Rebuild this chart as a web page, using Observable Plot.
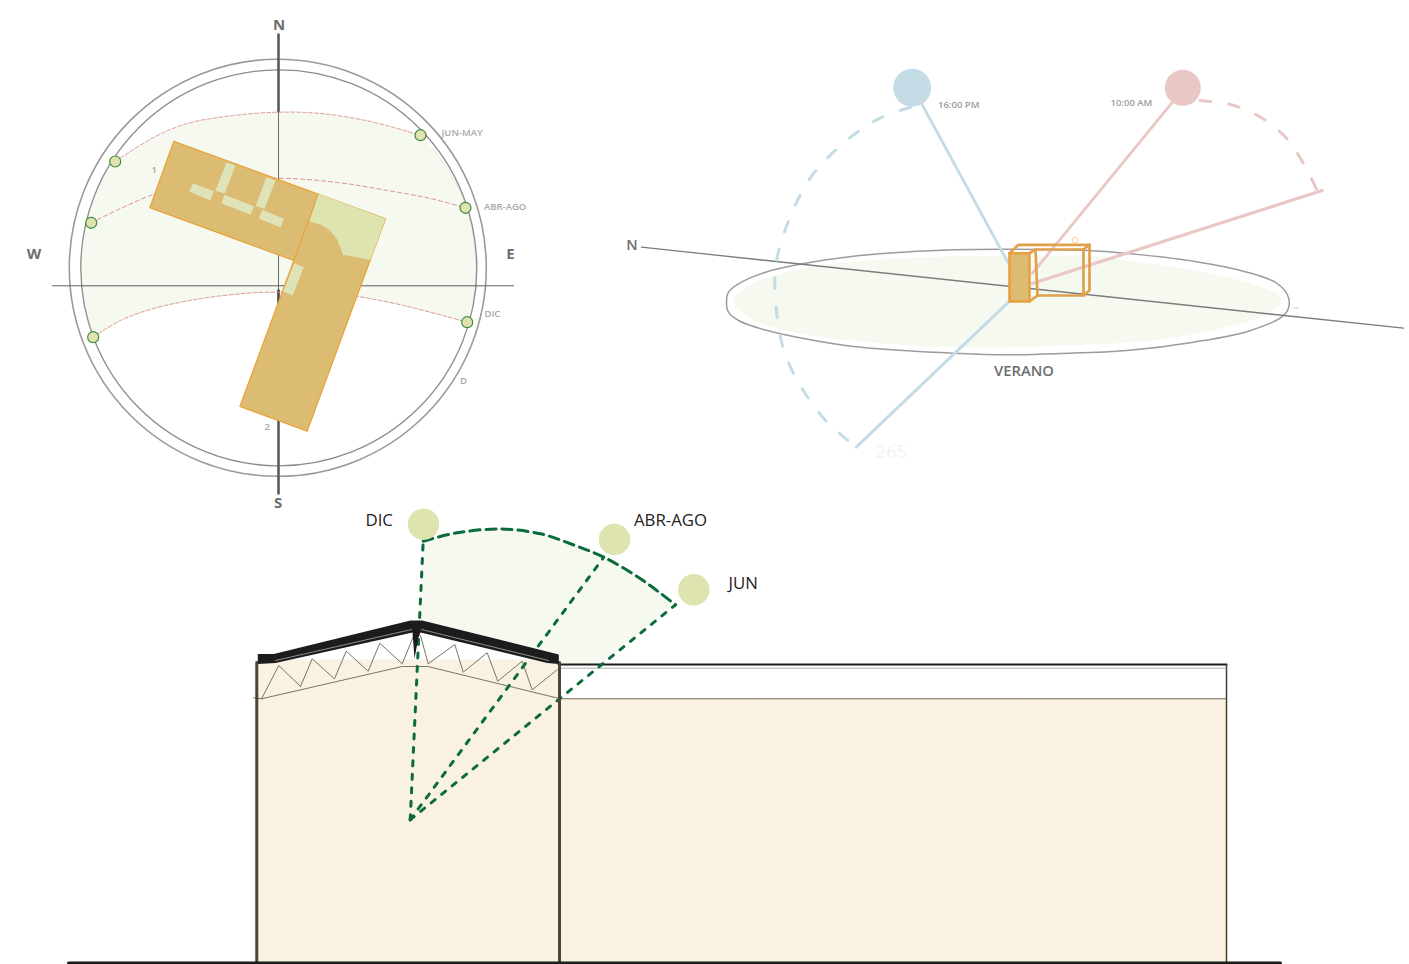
<!DOCTYPE html>
<html><head><meta charset="utf-8">
<style>html,body{margin:0;padding:0;background:#fff}svg{display:block}</style>
<script src="https://cdn.jsdelivr.net/npm/d3@7"></script>
<script src="https://cdn.jsdelivr.net/npm/@observablehq/plot@0.6"></script>
</head><body><div id="c"></div>
<script>
// Compass diagram
const bandTop=[[114.7,161],[153,137],[187,123],[233,115],[278,111.7],[320,113],[370,121],[420,134.7]];
const bandMid=[[90.7,222.3],[120,208],[153,194],[187,185],[220,180.7],[278,177.7],[337,182],[387,190],[430,198],[465,207.3]];
const bandBottom=[[92.7,336.7],[120,320],[153,308],[203,297.7],[253,292.3],[278,291.7],[320,292.3],[357,296],[403,305],[466.7,321.7]];
const bandRight=[[432,148],[447,168],[458,187],[466,207],[472,230],[475,255],[476,285],[472,305]];
const bandLeft=[[85,315],[81,285],[81,255],[85,225],[93,197],[103,177]];
const sunMarks=[[420,134.7],[465,207.3],[466.7,321.7],[92.7,336.7],[90.7,222.3],[114.7,161]];
const building=[[173.3,140.7],[385,218.3],[306.7,430.7],[239.3,406],[293.3,260],[149.3,207.3]];
const wingEdge=[[317.7,193.3],[293.3,260]];
const courtyard=[[317.7,193.3],[385,218.3],[370,259.3],[342.3,254.3],[340,247],[336,238],[329,229.5],[320,224],[309,221]];
const skylights=[
 [[192.3,182.7],[213.3,190.7],[210,200],[188.7,191]],
 [[226,161.7],[235,165],[224,193.3],[215,190]],
 [[224,194.3],[253.3,205.7],[250,214.3],[221,202.7]],
 [[266,176.7],[275,180],[264,208.3],[255,205.7]],
 [[261.7,209.3],[283.3,218.3],[280,226.7],[258.3,218.3]],
 [[294,262.7],[303.3,266.7],[292.3,295],[282.7,291]]];
const northSouthThin=[[278,34],[278,493]];
const northThick=[[278,34],[278,111]];
const centreThick=[[278,290],[278,302]];
const southThick=[[278,420],[278,493]];
const eastWest=[[52,285.3],[513,285.3]];
const outerRing=[[277.3,267.3]], innerRing=[[278.3,267.3]];
const compassLabels=[["N",278.7,25],["W",33.5,253.5],["E",510,253.5],["S",277.5,503]];
const monthLabels=[["JUN-MAY",441,132.5],["ABR-AGO",483.5,206],["DIC",484,313.5],["D",459.5,380],["1",151,169],["2",264,426.5]];

// Summer diagram
const horizonOuter=[[726,301.7],[728,291.7],[738,283.3],[765,271.7],[801.7,263.3],[853,255.7],[903,251.7],[953,249.3],[1010,248.7],[1088,250],[1127,253],[1193,260.7],[1246.7,271.7],[1276.7,283],[1288.3,298],[1285,313],[1250,330],[1193,341.7],[1126.7,350],[1060,353],[1003,354.3],[953,352.7],[903,350],[853,346],[803,338],[763,329],[738,320],[728,311.7]];
const horizonInner=[[733,301],[745,287],[775,275],[820,265],[880,259],[950,256],[1010,255.7],[1100,256],[1127,260],[1193,270],[1250,283],[1281,298],[1270,312],[1220,328],[1150,340],[1060,345],[1000,346.7],[930,346],[860,341],[790,331],[750,318]];
const northAxis=[[641,246.7],[1403,327.7]];
const blueSun=[[911.7,87.3]], pinkSun=[[1182.3,87.3]];
const blueRay=[[921,103],[1008,263]];
const blueBase=[[1008,301.7],[855.7,446.7]];
const blueArc=[[910,106.7],[881.7,116.7],[856.7,131.7],[833,151.7],[813,173],[798,198],[785.7,226.7],[776.7,256.7],[774.3,283],[776.7,316.7],[782,345],[793,373],[808,398],[826.7,421.7],[855.7,446.7]];
const pinkRay=[[1172,101.7],[1031.7,273]];
const pinkBase=[[1321.7,190],[1031.7,283]];
const pinkArc=[[1199.3,100],[1230,104],[1260,116.7],[1285,136.7],[1303,163],[1316.7,190]];
const boxFront=[[1009,252.7],[1029,252.7],[1029,301],[1009,301]];
const boxEdges=[
 [[1009,252.7],[1018,244.3],[1089,244.3],[1089,290],[1083,295],[1037,295],[1029,301]],
 [[1029,252.7],[1035,249],[1083,249],[1083,295]],
 [[1035,249],[1037,295]],
 [[1083,249],[1089,244.3]]];
const boxMark=[[1074.7,239.7]], tick=[[1293,307.5],[1298,307.7]];
const summerLabels=[["16:00 PM",937.5,104],["10:00 AM",1110,102]];

// Section diagram
const section=[[254,659],[558,659],[558,698.3],[1226,698.3],[1226,963],[254,963]];
const skyWedge=[[418.3,623.3],[422.7,540.7],[456.7,532.3],[500,527.7],[540,533.3],[603.3,556.7],[640,578.3],[675,604.3],[600,664],[558.3,664],[558.3,655]];
const skyArc=[[422.7,540.7],[456.7,532.3],[500,528.5],[540,533.3],[572,544],[603.3,556.7],[640,578.3],[675,604.3]];
const rayOrigin=[409.7,819.3];
const rayDic=[rayOrigin,[422.7,540.7]], rayAbr=[rayOrigin,[603.3,556.7]], rayJun=[rayOrigin,[675,604.3]];
const sectionSuns=[[423,523.7],[614,539],[693.3,589.3]];
const roof=[[257.3,653.5],[273.3,653.5],[410,620],[421.7,620],[558.3,654],[558.3,663.5],[546.7,662.5],[420,632],[418,637],[414,658],[412,632],[275,662.5],[257.3,663.5]];
const roofHighlightLeft=[[275,660],[411,629]], roofHighlightRight=[[421,629],[548,660]];
const trussLeft=[[261,698.3],[278.3,665],[300,686],[311.7,658.3],[334,678.3],[345.7,650.7],[367.7,670.7],[379.3,642.7],[401.7,663.3],[413.3,635]];
const trussRight=[[420,635],[427.7,663.3],[454.3,644],[462.7,671.7],[486.7,652.3],[497.3,680.7],[521.7,660.7],[531.7,689.3],[556.7,669.3]];
const chord=[[253,697.3],[261,698.3],[401.7,666],[427.3,666],[560,698.3]];
const wallLeft=[[256.3,662],[256.3,963]], wallMid=[[559,662],[559,963]], wallRight=[[1226,664],[1226,963]];
const eaveTop=[[558,664],[1226,664]], eaveUnder=[[559,667.7],[1224,667.7]], eaveBase=[[559,698.3],[1226,698.3]];
const ground=[[68,962.5],[1280,962.5]];
const sectionLabels=[["DIC",365,520],["ABR-AGO",633.5,520],["JUN",728,583]];

const X=d=>d[0], Y=d=>d[1];
const line=(a,o={})=>Plot.line(a,{x:X,y:Y,strokeLinejoin:"round",...o});
const poly=(a,fill,o={})=>line(a,{fill,stroke:"none",curve:"linear-closed",...o});
const label=(a,o)=>Plot.text(a,{x:d=>d[1],y:d=>d[2],text:d=>d[0],lineAnchor:"middle",fontFamily:"'Open Sans',sans-serif",...o});

const bandFill=[...bandTop,...bandRight,...[...bandBottom].reverse(),...bandLeft];
const GREEN="#f5f9f0", SOFT="#dfe3b0", TAN="#dcbb72", ORANGE="#e9a02f", DG="#0b6b3a";

document.getElementById("c").append(Plot.plot({
 width:1409,height:964,margin:0,
 style:{background:"#fff",overflow:"visible"},
 x:{domain:[0,1409],range:[0,1409],axis:null},
 y:{domain:[0,964],range:[0,964],axis:null},
 marks:[
  // compass
  poly(bandFill,GREEN),
  line(bandRight,{stroke:"#d5dfd0",strokeWidth:.8}),
  Plot.dot(outerRing,{x:X,y:Y,r:208.5,stroke:"#9a9a9a",strokeWidth:1.6,fill:"none"}),
  Plot.dot(innerRing,{x:X,y:Y,r:198,stroke:"#8c8c8c",strokeWidth:1.3,fill:"none"}),
  line(northSouthThin,{stroke:"#6a6a6a",strokeWidth:1}),
  line(northThick,{stroke:"#5a5a5a",strokeWidth:2.6}),
  line(centreThick,{stroke:"#444",strokeWidth:2.6}),
  line(southThick,{stroke:"#5a5a5a",strokeWidth:2.6}),
  line(eastWest,{stroke:"#5f5f5f",strokeWidth:1}),
  line(bandTop,{stroke:"#d8908a",strokeWidth:.9,strokeDasharray:"4 2",curve:"catmull-rom"}),
  line(bandMid,{stroke:"#d8857c",strokeWidth:.9,strokeDasharray:"4 3",curve:"catmull-rom"}),
  line(bandBottom,{stroke:"#d8908a",strokeWidth:.9,strokeDasharray:"4 2",curve:"catmull-rom"}),
  poly(building,TAN,{stroke:ORANGE,strokeWidth:1.1,strokeLinejoin:"miter"}),
  poly(courtyard,SOFT),
  line(wingEdge,{stroke:ORANGE,strokeWidth:1}),
  ...skylights.map(s=>poly(s,"#dfe3b8")),
  Plot.dot(sunMarks,{x:X,y:Y,r:5.5,fill:SOFT,stroke:"#3f8a3c",strokeWidth:1.2}),
  label(compassLabels,{fill:"#6e6e6e",fontSize:15,fontWeight:700,textAnchor:"middle"}),
  label(monthLabels,{fill:"#a8a8a8",fontSize:9.5,fontWeight:600,textAnchor:"start"}),
  // summer
  poly(horizonInner,GREEN,{curve:"catmull-rom-closed"}),
  line(horizonOuter,{stroke:"#9c9c9c",strokeWidth:1.5,curve:"catmull-rom-closed"}),
  line(northAxis,{stroke:"#7c7c7c",strokeWidth:1.3}),
  line(blueRay,{stroke:"#c5dce6",strokeWidth:2.8}),
  line(blueBase,{stroke:"#c5dce6",strokeWidth:3}),
  line(blueArc,{stroke:"#c5dce6",strokeWidth:3,strokeDasharray:"11 18",curve:"catmull-rom"}),
  Plot.dot(blueSun,{x:X,y:Y,r:19,fill:"#c5dce6"}),
  line(pinkRay,{stroke:"#e8c7c5",strokeWidth:2.8}),
  line(pinkBase,{stroke:"#e8c7c5",strokeWidth:3.2}),
  line(pinkArc,{stroke:"#e8c7c5",strokeWidth:3,strokeDasharray:"11 18",curve:"catmull-rom"}),
  Plot.dot(pinkSun,{x:X,y:Y,r:18,fill:"#e8c7c5"}),
  ...boxEdges.map(e=>line(e,{stroke:"#e0a04c",strokeWidth:2.7})),
  poly(boxFront,TAN,{stroke:"#e6a03c",strokeWidth:2.5}),
  Plot.dot(boxMark,{x:X,y:Y,r:3,stroke:"#f7cf9a",strokeWidth:1,fill:"none"}),
  line(tick,{stroke:"#f7cf9a",strokeWidth:1.2}),
  label(summerLabels,{fill:"#9c9c9c",fontSize:9.5,fontWeight:600,textAnchor:"start"}),
  label([["N",631.5,244.5]],{fill:"#6e6e6e",fontSize:14.5,fontWeight:600,textAnchor:"middle"}),
  label([["VERANO",1023.5,371]],{fill:"#6e6e6e",fontSize:14.8,fontWeight:600,textAnchor:"middle"}),
  label([["265",891,452]],{fill:"#eef4f7",fontSize:18,textAnchor:"middle"}),
  // section
  poly(section,"#f9f2e3"),
  poly(skyWedge,GREEN),
  line(eaveUnder,{stroke:"#999",strokeWidth:.8}),
  line(eaveBase,{stroke:"#7b6a50",strokeWidth:1.1}),
  line(eaveTop,{stroke:"#1c1c1c",strokeWidth:2}),
  line(trussLeft,{stroke:"#6b6558",strokeWidth:.9}),
  line(trussRight,{stroke:"#6b6558",strokeWidth:.9}),
  line(chord,{stroke:"#6b6558",strokeWidth:.9}),
  line(skyArc,{stroke:DG,strokeWidth:3,strokeDasharray:"10 6",curve:"catmull-rom"}),
  line(rayDic,{stroke:DG,strokeWidth:3,strokeDasharray:"5 8.5"}),
  line(rayAbr,{stroke:DG,strokeWidth:3,strokeDasharray:"5 8.5"}),
  line(rayJun,{stroke:DG,strokeWidth:3,strokeDasharray:"5 8.5"}),
  Plot.dot(sectionSuns,{x:X,y:Y,r:15.7,fill:SOFT}),
  line(wallLeft,{stroke:"#4f4432",strokeWidth:3}),
  line(wallMid,{stroke:"#4f4432",strokeWidth:3}),
  line(wallRight,{stroke:"#4a3f2c",strokeWidth:1.5}),
  poly(roof,"#1c1c1c"),
  line(roofHighlightLeft,{stroke:"#d8d8d8",strokeWidth:.6}),
  line(roofHighlightRight,{stroke:"#d8d8d8",strokeWidth:.6}),
  line(ground,{stroke:"#1c1c1c",strokeWidth:3}),
  label(sectionLabels,{fill:"#222",fontSize:16.8,textAnchor:"start"})
 ]
}));
</script></body></html>
